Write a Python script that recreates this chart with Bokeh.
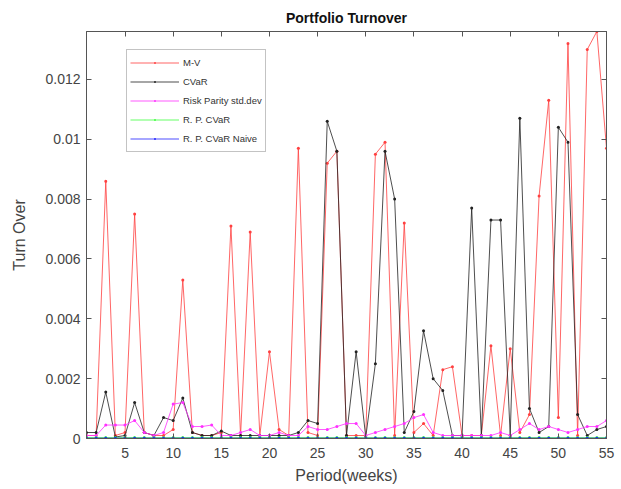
from bokeh.plotting import figure
from bokeh.models import (Legend, LegendItem, LinearAxis, FixedTicker,
                          NumeralTickFormatter, Range1d, CustomJSTickFormatter)
from bokeh.embed import file_html
from bokeh.resources import INLINE

periods = list(range(1, 56))

mv = [0.0001, 0.0001, 0.0086, 0.0001, 0.0002, 0.0075, 0.0002, 0.0001, 0.0001, 0.0003,
      0.0053, 0.0002, 0.0001, 0.0001, 0.0002, 0.0071, 0.0001, 0.0069, 0.0001, 0.0029,
      0.0003, 0.0001, 0.0097, 0.0002, 0.0001, 0.0092, 0.0096, 0.0001, 0.0001, 0.0001,
      0.0095, 0.0099, 0.0001, 0.0072, 0.0002, 0.0005, 0.0001, 0.0023, 0.0024, 0.0001,
      0.0001, 0.0001, 0.0031, 0.0001, 0.0030, 0.0002, 0.0008, 0.0081, 0.0113, 0.0007,
      0.0132, 0.0001, 0.0130, 0.0136, 0.0097]

cvar = [0.0002, 0.0002, 0.00155, 0.00005, 0.0001, 0.0012, 0.0002, 0.0001, 0.0007, 0.0006,
        0.00135, 0.0002, 0.0001, 0.0001, 0.00025, 0.0001, 0.0001, 0.0001, 0.0001, 0.0001,
        0.0001, 0.0001, 0.0002, 0.0006, 0.0005, 0.0106, 0.0096, 0.0001, 0.0029, 0.00005,
        0.0025, 0.0096, 0.0080, 0.0002, 0.0009, 0.0036, 0.0020, 0.0016, 0.0001, 0.0001,
        0.0077, 0.0001, 0.0073, 0.0073, 0.0001, 0.0107, 0.0010, 0.0002, 0.0004, 0.0104,
        0.0099, 0.0008, 0.0001, 0.0003, 0.0004]

rp_std = [0.0001, 0.0001, 0.00045, 0.00045, 0.00045, 0.0006, 0.0002, 0.0001, 0.0002, 0.00115,
          0.0012, 0.0004, 0.0004, 0.00045, 0.0001, 0.0001, 0.0002, 0.0003, 0.0001, 0.0001,
          0.0002, 0.0001, 0.0001, 0.0004, 0.0003, 0.0003, 0.0004, 0.0005, 0.0005, 0.0001,
          0.0002, 0.0003, 0.0004, 0.0005, 0.0007, 0.0008, 0.0002, 0.0001, 0.0001, 0.0001,
          0.0001, 0.0001, 0.0001, 0.0002, 0.0001, 0.0003, 0.0005, 0.0003, 0.0004, 0.0003,
          0.0002, 0.0003, 0.0004, 0.0004, 0.0006]

rp_cvar = [0.00003] * 55

rp_naive = [0.00001] * 55

y_ticks = [0, 0.002, 0.004, 0.006, 0.008, 0.010, 0.012]
x_ticks = [5, 10, 15, 20, 25, 30, 35, 40, 45, 50, 55]

FONT = "Liberation Sans"

p = figure(width=616, height=486, output_backend="svg", toolbar_location=None,
           x_range=Range1d(1, 55), y_range=Range1d(0, 0.0136),
           min_border_left=86, min_border_right=10, min_border_top=31, min_border_bottom=46,
           x_axis_label="Period(weeks)", y_axis_label="Turn Over")
p.title.text = "Portfolio Turnover"
p.title.align = "center"
p.title.text_font = FONT
p.title.text_font_size = "14px"
p.title.text_font_style = "bold"
p.title.text_color = "#111111"
p.title.offset = 0
p.title.standoff = 12

p.xgrid.visible = False
p.ygrid.visible = False
p.outline_line_color = "#555555"
p.outline_line_width = 1

series = [
    ("M-V", mv, "#ff4040"),
    ("CVaR", cvar, "#222222"),
    ("Risk Parity std.dev", rp_std, "#ff30ff"),
    ("R. P. CVaR", rp_cvar, "#40ff40"),
    ("R. P. CVaR Naive", rp_naive, "#2020ff"),
]

items = []
for name, ys, col in series:
    r1 = p.line(periods, ys, line_color=col, line_width=1, line_alpha=0.8)
    r2 = p.scatter(periods, ys, marker="dot", size=12, line_color=col, line_width=1.5)
    items.append(LegendItem(label=name, renderers=[r1, r2]))

xa = p.xaxis[0]
ya = p.yaxis[0]
xa.ticker = FixedTicker(ticks=x_ticks)
ya.ticker = FixedTicker(ticks=y_ticks)
ya.formatter = NumeralTickFormatter(format="0.[000]")
for ax in (xa, ya):
    ax.major_tick_in = 5
    ax.major_tick_out = 0
    ax.minor_tick_in = 0
    ax.minor_tick_out = 0
    ax.axis_line_color = "#555555"
    ax.major_tick_line_color = "#555555"
    ax.major_label_text_font = FONT
    ax.major_label_text_font_size = "14px"
    ax.major_label_text_color = "#444444"
    ax.axis_label_text_font = FONT
    ax.axis_label_text_font_size = "16px"
    ax.axis_label_text_font_style = "normal"
    ax.axis_label_text_color = "#444444"
ya.major_label_standoff = 6
ya.axis_label_standoff = 14
xa.major_label_standoff = 9
xa.axis_label_standoff = 6

top = LinearAxis(ticker=FixedTicker(ticks=x_ticks), formatter=CustomJSTickFormatter(code="return ''"),
                 major_tick_in=5, major_tick_out=0, minor_tick_in=0, minor_tick_out=0,
                 axis_line_color="#555555", major_tick_line_color="#555555",
                 major_label_standoff=0)
right = LinearAxis(ticker=FixedTicker(ticks=y_ticks), formatter=CustomJSTickFormatter(code="return ''"),
                   major_tick_in=5, major_tick_out=0, minor_tick_in=0, minor_tick_out=0,
                   axis_line_color="#555555", major_tick_line_color="#555555",
                   major_label_standoff=0)
p.add_layout(top, "above")
p.add_layout(right, "right")

legend = Legend(items=items, location=(40, 286), label_text_font=FONT,
                label_text_font_size="9.5px", label_text_color="#333333",
                glyph_width=49, glyph_height=19, label_height=19, spacing=0,
                label_standoff=4, padding=3, margin=0, border_line_color="#888888",
                border_line_width=1, background_fill_color="white",
                background_fill_alpha=1)
p.add_layout(legend, "center")

open("out.html", "w").write(file_html(p, INLINE))
